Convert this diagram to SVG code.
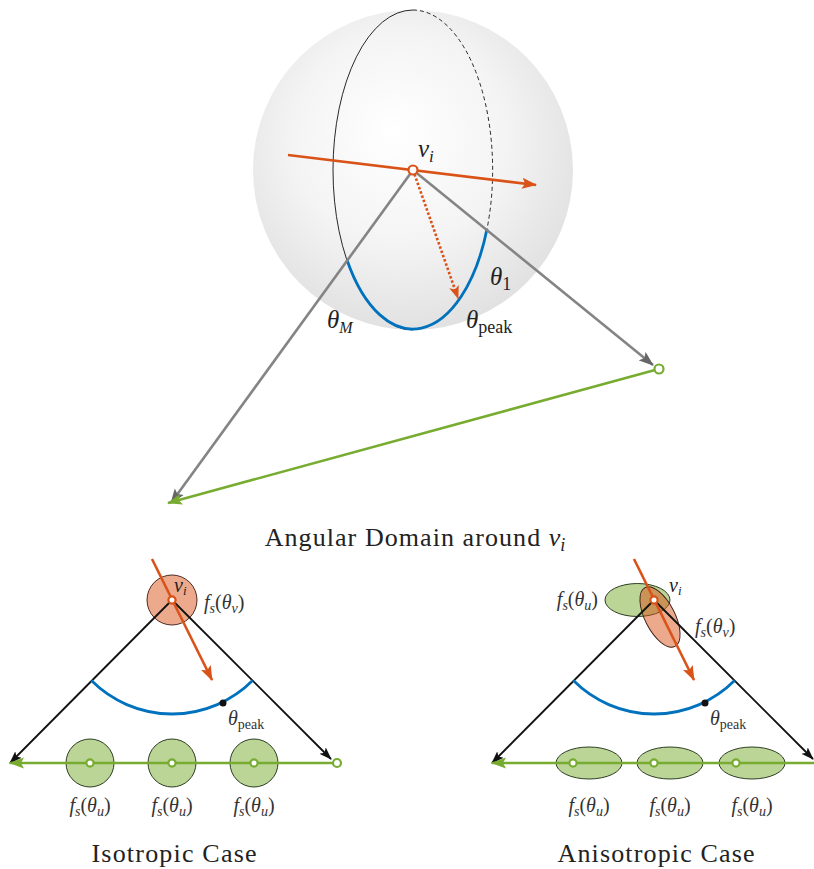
<svg xmlns="http://www.w3.org/2000/svg" width="814" height="869" viewBox="0 0 814 869">
<defs>
  <radialGradient id="sph" cx="0.47" cy="0.42" r="0.6" fx="0.44" fy="0.38">
    <stop offset="0" stop-color="#ffffff"/>
    <stop offset="0.55" stop-color="#f4f4f4"/>
    <stop offset="1" stop-color="#e0e0e0"/>
  </radialGradient>
  <marker id="aOr" markerUnits="userSpaceOnUse" markerWidth="16" markerHeight="12" refX="14" refY="6" orient="auto" viewBox="0 0 16 12">
    <path d="M0,0.5 L15,6 L0,11.5 L3,6 z" fill="#D95319"/>
  </marker>
  <marker id="aOr2" markerUnits="userSpaceOnUse" markerWidth="16" markerHeight="12" refX="12" refY="6" orient="auto" viewBox="0 0 16 12">
    <path d="M0,1 L13,6 L0,11 L3,6 z" fill="#D95319"/>
  </marker>
  <marker id="aGr" markerUnits="userSpaceOnUse" markerWidth="16" markerHeight="12" refX="14" refY="6" orient="auto" viewBox="0 0 16 12">
    <path d="M0,0.5 L15,6 L0,11.5 L3,6 z" fill="#77AC30"/>
  </marker>
  <marker id="aGy" markerUnits="userSpaceOnUse" markerWidth="16" markerHeight="12" refX="14" refY="6" orient="auto" viewBox="0 0 16 12">
    <path d="M0,0.5 L15,6 L0,11.5 L3,6 z" fill="#666"/>
  </marker>
  <marker id="aBk" markerUnits="userSpaceOnUse" markerWidth="14" markerHeight="12" refX="12" refY="5" orient="auto" viewBox="0 0 14 10">
    <path d="M0,0.5 L13,5 L0,9.5 L3,5 z" fill="#111"/>
  </marker>
  <style>
    text { font-family: "Liberation Serif", "Times New Roman", serif; fill: #222; }
    .it { font-style: italic; }
    .cap { font-size: 26px; }
    .or { stroke: #D95319; stroke-width: 2.6; fill: none; }
    .gray { stroke: #848484; stroke-width: 2.6; fill: none; }
    .grn { stroke: #77AC30; stroke-width: 2.6; fill: none; }
    .blk { stroke: #111; stroke-width: 1.8; fill: none; }
    .blue { stroke: #0072BD; stroke-width: 2.8; fill: none; }
    .pt-or { fill: #fff; stroke: #D95319; stroke-width: 2.2; }
    .pt-gr { fill: #fff; stroke: #77AC30; stroke-width: 2.2; }
    .blob-or { fill: #D95319; fill-opacity: 0.5; stroke: #3a1a10; stroke-width: 0.9; }
    .blob-gr { fill: #77AC30; fill-opacity: 0.5; stroke: #1a2a10; stroke-width: 0.9; }
    .lbl { font-size: 20px; fill: #333; }
    .sub { font-size: 14px; }
  </style>
</defs>

<!-- Top: sphere -->
<g id="sphere">
  <circle cx="413" cy="170" r="160" fill="url(#sph)"/>
  <path d="M413,10 A80,160 0 0 0 413,330" stroke="#111" stroke-width="0.9" fill="none"/>
  <path d="M413,10 A80,160 0 0 1 487,229" stroke="#111" stroke-width="0.9" fill="none" stroke-dasharray="4,3"/>
  <path d="M347,260 A80,160 0 0 0 487,229" class="blue"/>
</g>

<g id="connectors">
  <line x1="288" y1="155" x2="536" y2="185" class="or" marker-end="url(#aOr)"/>
  <line x1="413" y1="170" x2="458" y2="298" class="or" stroke-dasharray="2.5,2" marker-end="url(#aOr2)"/>
  <line x1="413" y1="170" x2="171" y2="503" class="gray" marker-end="url(#aGy)"/>
  <line x1="413" y1="170" x2="653" y2="365" class="gray" marker-end="url(#aGy)"/>
  <line x1="655" y1="370" x2="168" y2="503" class="grn" marker-end="url(#aGr)"/>
</g>

<g id="vi-top">
  <circle cx="413" cy="170" r="4.5" class="pt-or"/>
  <circle cx="659" cy="369" r="4.5" class="pt-gr"/>
</g>

<g id="top-labels">
  <text x="418" y="157" font-size="25"><tspan class="it">v</tspan><tspan class="it" font-size="17" dy="5">i</tspan></text>
  <text x="490" y="285" font-size="25"><tspan class="it">θ</tspan><tspan font-size="18" dy="5">1</tspan></text>
  <text x="327" y="328" font-size="25"><tspan class="it">θ</tspan><tspan class="it" font-size="16" dy="5">M</tspan></text>
  <text x="466" y="328" font-size="25"><tspan class="it">θ</tspan><tspan font-size="18" dy="5">peak</tspan></text>
  <text x="415" y="546" class="cap" text-anchor="middle"><tspan textLength="283" lengthAdjust="spacing">Angular Domain around </tspan><tspan class="it">v</tspan><tspan class="it" font-size="18" dy="5">i</tspan></text>
</g>

<!-- Isotropic -->
<g id="iso">
  <circle cx="172" cy="600" r="25" class="blob-or"/>
  <circle cx="90" cy="763" r="24" class="blob-gr"/>
  <circle cx="172" cy="763" r="24" class="blob-gr"/>
  <circle cx="254" cy="763" r="24" class="blob-gr"/>
  <line x1="172" y1="600" x2="10" y2="763" class="blk" marker-end="url(#aBk)"/>
  <line x1="172" y1="600" x2="331" y2="759" class="blk" marker-end="url(#aBk)"/>
  <line x1="333" y1="763" x2="10" y2="763" class="grn" marker-end="url(#aGr)"/>
  <line x1="152" y1="559" x2="212" y2="680" class="or" marker-end="url(#aOr)"/>
  <path d="M91.4,680.6 A114,114 0 0 0 252.6,680.6" class="blue"/>
  <circle cx="223" cy="703" r="3.5" fill="#111"/>
  <circle cx="172" cy="600" r="3.6" class="pt-or"/>
  <circle cx="90" cy="763" r="3.6" class="pt-gr"/>
  <circle cx="172" cy="763" r="3.6" class="pt-gr"/>
  <circle cx="254" cy="763" r="3.6" class="pt-gr"/>
  <circle cx="337" cy="763" r="4" class="pt-gr"/>
  <text x="174" y="592" font-size="20"><tspan class="it">v</tspan><tspan class="it" font-size="13" dy="3">i</tspan></text>
  <text x="204" y="609" class="lbl"><tspan class="it">f</tspan><tspan class="it sub" dy="4">s</tspan><tspan dy="-4">(</tspan><tspan class="it">θ</tspan><tspan class="it sub" dy="4">v</tspan><tspan dy="-4">)</tspan></text>
  <text x="228" y="725" class="lbl"><tspan class="it">θ</tspan><tspan class="sub" dy="4">peak</tspan></text>
  <text x="90" y="812" class="lbl" text-anchor="middle"><tspan class="it">f</tspan><tspan class="it sub" dy="4">s</tspan><tspan dy="-4">(</tspan><tspan class="it">θ</tspan><tspan class="it sub" dy="4">u</tspan><tspan dy="-4">)</tspan></text>
  <text x="172" y="812" class="lbl" text-anchor="middle"><tspan class="it">f</tspan><tspan class="it sub" dy="4">s</tspan><tspan dy="-4">(</tspan><tspan class="it">θ</tspan><tspan class="it sub" dy="4">u</tspan><tspan dy="-4">)</tspan></text>
  <text x="254" y="812" class="lbl" text-anchor="middle"><tspan class="it">f</tspan><tspan class="it sub" dy="4">s</tspan><tspan dy="-4">(</tspan><tspan class="it">θ</tspan><tspan class="it sub" dy="4">u</tspan><tspan dy="-4">)</tspan></text>
  <text x="174" y="862" class="cap" text-anchor="middle" textLength="165" lengthAdjust="spacing">Isotropic Case</text>
</g>

<!-- Anisotropic -->
<g id="aniso">
  <ellipse cx="637.5" cy="600" rx="32.5" ry="16.5" class="blob-gr"/>
  <ellipse cx="660" cy="617" rx="15" ry="33" transform="rotate(-27 660 617)" class="blob-or"/>
  <ellipse cx="589" cy="763" rx="33" ry="16" class="blob-gr"/>
  <ellipse cx="670" cy="763" rx="33" ry="16" class="blob-gr"/>
  <ellipse cx="752" cy="763" rx="33" ry="16" class="blob-gr"/>
  <line x1="654" y1="600" x2="492" y2="763" class="blk" marker-end="url(#aBk)"/>
  <line x1="654" y1="600" x2="813" y2="759" class="blk" marker-end="url(#aBk)"/>
  <line x1="820" y1="763" x2="492" y2="763" class="grn" marker-end="url(#aGr)"/>
  <line x1="634" y1="559" x2="694" y2="680" class="or" marker-end="url(#aOr)"/>
  <path d="M573.4,680.6 A114,114 0 0 0 734.6,680.6" class="blue"/>
  <circle cx="705" cy="703" r="3.5" fill="#111"/>
  <circle cx="654" cy="600" r="3.6" class="pt-or"/>
  <circle cx="573" cy="763" r="3.6" class="pt-gr"/>
  <circle cx="654" cy="763" r="3.6" class="pt-gr"/>
  <circle cx="736" cy="763" r="3.6" class="pt-gr"/>
  <text x="669" y="592" font-size="20"><tspan class="it">v</tspan><tspan class="it" font-size="13" dy="3">i</tspan></text>
  <text x="695" y="633" class="lbl"><tspan class="it">f</tspan><tspan class="it sub" dy="4">s</tspan><tspan dy="-4">(</tspan><tspan class="it">θ</tspan><tspan class="it sub" dy="4">v</tspan><tspan dy="-4">)</tspan></text>
  <text x="598" y="606" class="lbl" text-anchor="end"><tspan class="it">f</tspan><tspan class="it sub" dy="4">s</tspan><tspan dy="-4">(</tspan><tspan class="it">θ</tspan><tspan class="it sub" dy="4">u</tspan><tspan dy="-4">)</tspan></text>
  <text x="710" y="725" class="lbl"><tspan class="it">θ</tspan><tspan class="sub" dy="4">peak</tspan></text>
  <text x="589" y="812" class="lbl" text-anchor="middle"><tspan class="it">f</tspan><tspan class="it sub" dy="4">s</tspan><tspan dy="-4">(</tspan><tspan class="it">θ</tspan><tspan class="it sub" dy="4">u</tspan><tspan dy="-4">)</tspan></text>
  <text x="670" y="812" class="lbl" text-anchor="middle"><tspan class="it">f</tspan><tspan class="it sub" dy="4">s</tspan><tspan dy="-4">(</tspan><tspan class="it">θ</tspan><tspan class="it sub" dy="4">u</tspan><tspan dy="-4">)</tspan></text>
  <text x="752" y="812" class="lbl" text-anchor="middle"><tspan class="it">f</tspan><tspan class="it sub" dy="4">s</tspan><tspan dy="-4">(</tspan><tspan class="it">θ</tspan><tspan class="it sub" dy="4">u</tspan><tspan dy="-4">)</tspan></text>
  <text x="656" y="862" class="cap" text-anchor="middle" textLength="197" lengthAdjust="spacing">Anisotropic Case</text>
</g>
</svg>
